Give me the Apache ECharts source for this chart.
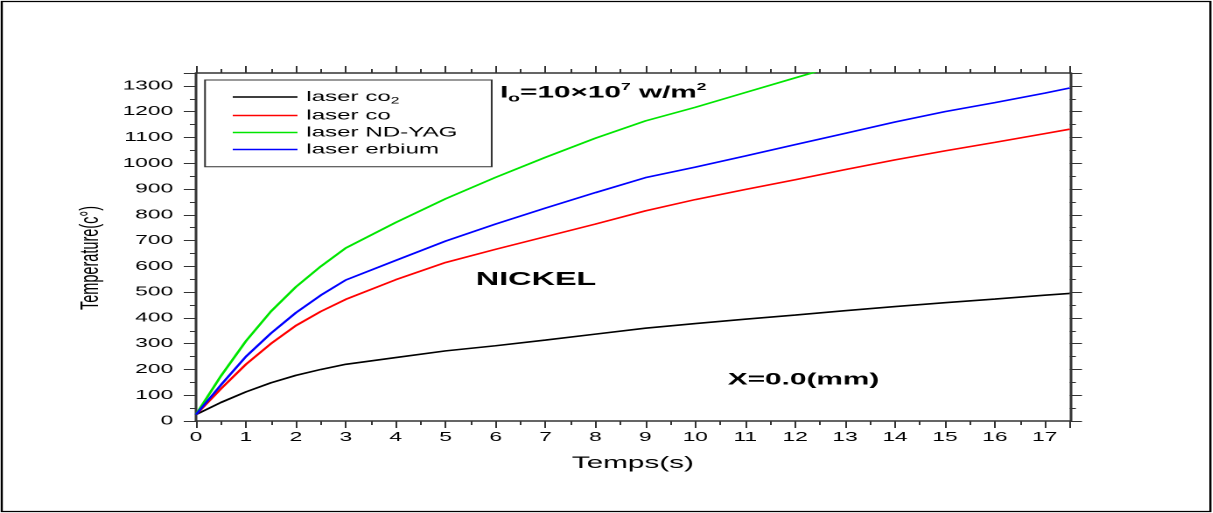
<!DOCTYPE html>
<html>
<head>
<meta charset="utf-8">
<script src="https://cdn.jsdelivr.net/npm/echarts@6/dist/echarts.min.js"></script>
<style>
  html, body { margin: 0; padding: 0; background: #fff; overflow: hidden; width: 1213px; height: 513px; }
  #chart { position: absolute; left: 0; top: 0; height: 513px; transform-origin: 0 0; }
</style>
</head>
<body>
<div id="chart"></div>
<script>
// ---- data ----
const time   = [0, 0.5, 1, 1.5, 2, 2.5, 3, 4, 5, 6, 7, 8, 9, 10, 11, 12, 13, 14, 15, 16, 17, 17.5];
const laserCO2    = [25, 72, 113, 148, 177, 200, 220, 246, 272, 292, 314, 337, 360, 378, 395, 411, 428, 444, 459, 473, 488, 495];
const laserCO     = [25, 125, 220, 300, 370, 425, 472, 548, 615, 666, 715, 764, 815, 859, 898, 936, 975, 1013, 1048, 1081, 1115, 1132];
const laserNDYAG  = [25, 175, 310, 425, 520, 600, 671, 770, 862, 945, 1023, 1097, 1164, 1217, 1274, 1331, 1388];
const laserErbium = [25, 140, 250, 340, 420, 488, 547, 623, 698, 764, 826, 886, 944, 985, 1028, 1072, 1116, 1160, 1200, 1235, 1272, 1292];
const seriesNames = ['laser co2', 'laser co', 'laser ND-YAG', 'laser erbium'];
const xTickLabels = ['0','1','2','3','4','5','6','7','8','9','10','11','12','13','14','15','16','17'];
const yTickLabels = ['0','100','200','300','400','500','600','700','800','900','1000','1100','1200','1300'];

// ---- layout (the reference raster is stretched horizontally) ----
const S = 1.75;
const W = 1213 / S;
const el = document.getElementById('chart');
el.style.width = W + 'px';
el.style.transform = 'scaleX(' + S + ')';

const FONT = '"Liberation Sans", Arial, sans-serif';
const axisColor = '#333';

function pairs(vals) { return vals.map((v, i) => [time[i], v]); }

const xCommon = {
  type: 'value', min: 0, max: 17.5, interval: 1,
  axisLine: { show: true, onZero: false, lineStyle: { color: axisColor, width: 1.5 } },
  axisTick: { show: true, inside: false, length: 7, lineStyle: { color: axisColor, width: 1 } },
  minorTick: { show: true, splitNumber: 2, length: 4, lineStyle: { color: axisColor, width: 1 } },
  splitLine: { show: false }
};
const yCommon = {
  type: 'value', min: 0, max: 1350, interval: 100,
  axisLine: { show: true, onZero: false, lineStyle: { color: axisColor, width: 1.5 } },
  axisTick: { show: true, inside: false, length: 7, lineStyle: { color: axisColor, width: 1 } },
  minorTick: { show: true, splitNumber: 2, length: 3.5, lineStyle: { color: axisColor, width: 1 } },
  splitLine: { show: false }
};

const lineCommon = { type: 'line', showSymbol: false, symbol: 'none', clip: true, smooth: false, z: 3 };

const chart = echarts.init(el, null, { renderer: 'canvas', devicePixelRatio: 2 });
const option = {
  animation: false,
  backgroundColor: '#fff',
  grid: { left: 112, right: W - 1070 / S, top: 73, bottom: 92, containLabel: false },
  xAxis: [
    Object.assign({}, xCommon, {
      position: 'bottom',
      axisLabel: { show: true, fontSize: 13, color: '#000', fontFamily: FONT, margin: 10, showMaxLabel: false,
        formatter: v => { const i = xTickLabels.indexOf(String(v)); return i >= 0 ? xTickLabels[i] : ''; } },
      name: 'Temps(s)', nameLocation: 'middle', nameGap: 34,
      nameTextStyle: { fontSize: 17, color: '#000', fontFamily: FONT }
    }),
    Object.assign({}, xCommon, { position: 'top', axisLabel: { show: false } })
  ],
  yAxis: [
    Object.assign({}, yCommon, {
      position: 'left',
      axisLabel: { show: true, fontSize: 13, color: '#000', fontFamily: FONT, margin: 13, showMaxLabel: false,
        formatter: v => { const i = yTickLabels.indexOf(String(v)); return i >= 0 ? yTickLabels[i] : ''; } }
    }),
    Object.assign({}, yCommon, { position: 'right', axisLabel: { show: false } })
  ],
  legend: {
    orient: 'vertical', left: 133, top: 90, padding: 0, itemGap: 3,
    itemWidth: 37, itemHeight: 1.6, icon: 'rect', selectedMode: false,
    data: seriesNames,
    formatter: name => name === 'laser co2' ? '{a|laser co}{b|2}' : '{a|' + name + '}',
    textStyle: {
      color: '#000', fontFamily: FONT,
      rich: {
        a: { fontSize: 13.8, lineHeight: 17, color: '#000', fontFamily: FONT },
        b: { fontSize: 9, verticalAlign: 'bottom', color: '#000', fontFamily: FONT }
      }
    }
  },
  graphic: [
    { type: 'rect', silent: true, z: 0, shape: { x: 1, y: 1.5, width: W - 2.5, height: 510 },
      style: { fill: 'none', stroke: '#000', lineWidth: 1.2 } },
    { type: 'rect', silent: true, z: 1, shape: { x: 205 / S, y: 80, width: (491.7 - 205) / S, height: 86.7 },
      style: { fill: '#fff', stroke: axisColor, lineWidth: 1 } },
    { type: 'text', silent: true, z: 5, x: 500 / S, y: 93,
      style: {
        text: '{I|I}{o|o}{t|=10×10}{s|7}{t| w/m}{s|2}',
        verticalAlign: 'middle', align: 'left', fill: '#000',
        rich: {
          I: { fontSize: 17, fontWeight: 'bold', lineHeight: 22, fontFamily: FONT, fill: '#000' },
          t: { fontSize: 17, fontWeight: 'bold', lineHeight: 22, fontFamily: FONT, fill: '#000' },
          o: { fontSize: 11, fontWeight: 'bold', verticalAlign: 'bottom', fontFamily: FONT, fill: '#000' },
          s: { fontSize: 10, fontWeight: 'bold', verticalAlign: 'top', fontFamily: FONT, fill: '#000' }
        }
      } },
    { type: 'text', silent: true, z: 5, x: 536 / S, y: 280,
      style: { text: 'NICKEL', fontSize: 18.5, fontWeight: 'bold', fontFamily: FONT, fill: '#000', align: 'center', verticalAlign: 'middle' } },
    { type: 'text', silent: true, z: 5, x: 803.5 / S, y: 380,
      style: { text: 'X=0.0(mm)', fontSize: 17, fontWeight: 'bold', fontFamily: FONT, fill: '#000', align: 'center', verticalAlign: 'middle' } },
    { type: 'text', silent: true, z: 5, x: 91 / S, y: 258, rotation: Math.PI / 2,
      style: { text: 'Temperature(c°)', fontSize: 14.5, fontFamily: FONT, fill: '#000', align: 'center', verticalAlign: 'middle' } }
  ],
  series: [
    Object.assign({}, lineCommon, { name: seriesNames[0], data: pairs(laserCO2),
      lineStyle: { color: '#000000', width: 1.6 }, itemStyle: { color: '#000000' } }),
    Object.assign({}, lineCommon, { name: seriesNames[1], data: pairs(laserCO),
      lineStyle: { color: '#ff0000', width: 1.6 }, itemStyle: { color: '#ff0000' } }),
    Object.assign({}, lineCommon, { name: seriesNames[2], data: pairs(laserNDYAG),
      lineStyle: { color: '#00e600', width: 1.6 }, itemStyle: { color: '#00e600' } }),
    Object.assign({}, lineCommon, { name: seriesNames[3], data: pairs(laserErbium),
      lineStyle: { color: '#0000ff', width: 1.6 }, itemStyle: { color: '#0000ff' } })
  ]
};
chart.setOption(option);
</script>
</body>
</html>
